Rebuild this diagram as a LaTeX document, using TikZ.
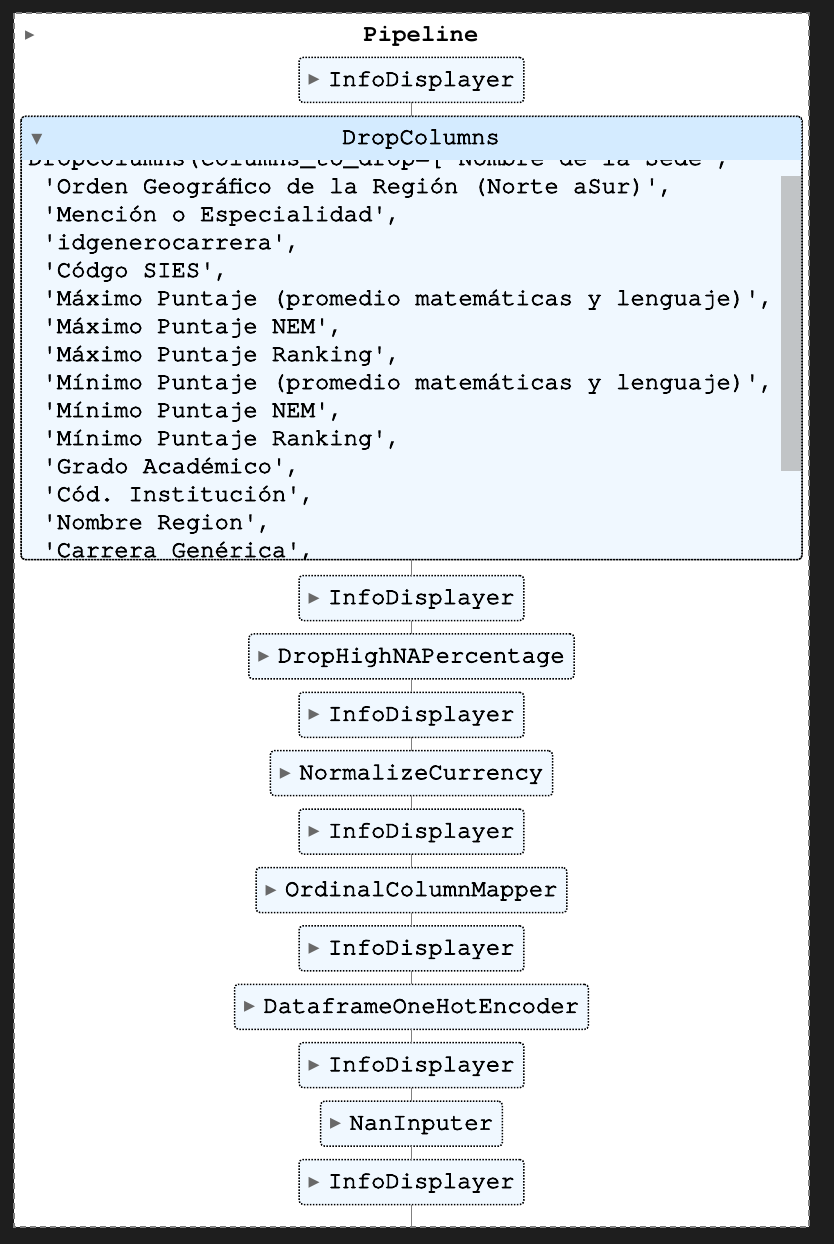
\documentclass[tikz,border=0pt]{standalone}
\usepackage{fontspec}
\setmonofont{texgyrecursor}[Extension=.otf,UprightFont=*-regular,BoldFont=*-bold,UprightFeatures={FakeBold=3}]
\newfontfamily\trifont{DejaVu Sans}
\usetikzlibrary{positioning}

\definecolor{skdark}{HTML}{1E1E1E}
\definecolor{skfill}{HTML}{F0F8FF}
\definecolor{skhead}{HTML}{D4EBFF}
\definecolor{skgray}{HTML}{696969}
\definecolor{sklink}{HTML}{808080}
\definecolor{skbar}{HTML}{C1C4C6}

\newcommand{\skfont}{\ttfamily\fontsize{23.9pt}{28pt}\selectfont}
\newcommand{\tri}{\makebox[19.5pt][l]{\trifont\fontsize{22pt}{22pt}\selectfont\color{skgray}▸}}
\newcommand{\trid}{{\trifont\fontsize{22pt}{22pt}\selectfont\color{skgray}▾}}

\begin{document}
\begin{tikzpicture}[x=1pt,y=-1pt,node distance=13.4pt,
  estbox/.style={draw,fill=skfill,rounded corners=4pt,line width=1.5pt,dash pattern=on 1.5pt off 1.5pt,
    minimum height=45pt,inner xsep=9.5pt,inner ysep=0pt,outer sep=0pt,text height=16pt,text depth=4pt,font=\skfont},
  codeline/.style={anchor=base west,inner sep=0pt,font=\skfont},
  link/.style={draw=sklink,line width=1.6pt}]
\useasboundingbox (0,0) rectangle (834,1244);
\fill[skdark] (0,0) rectangle (834,1244);
\draw[sklink,fill=white,line width=2pt,dash pattern=on 6pt off 4pt] (14,13) rectangle (809,1227);

\node[inner sep=0pt,font=\trifont\fontsize{19pt}{19pt}\selectfont,text=skgray] (ptri) at (30,36) {▸};
\node[font=\skfont\bfseries] (ptitle) at (421,36) {Pipeline};

\node[estbox] (i1) at (411.5,80) {\tri InfoDisplayer};
\node[estbox,minimum width=781pt,minimum height=443pt,below=14pt of i1] (dc) {};

% expanded estimator
\begin{scope}
\clip[rounded corners=4pt] (dc.north west) rectangle (dc.south east);
\node[codeline] (l0) at (28,165) {DropColumns(columns\_to\_drop=['Nombre de la Sede',};
\node[codeline] (l1) at (42.3,193) {'Orden Geográfico de la Región (Norte aSur)',};
\node[codeline] (l2) at (42.3,221) {'Mención o Especialidad',};
\node[codeline] (l3) at (42.3,249) {'idgenerocarrera',};
\node[codeline] (l4) at (42.3,277) {'Códgo SIES',};
\node[codeline] (l5) at (42.3,305) {'Máximo Puntaje (promedio matemáticas y lenguaje)',};
\node[codeline] (l6) at (42.3,333) {'Máximo Puntaje NEM',};
\node[codeline] (l7) at (42.3,361) {'Máximo Puntaje Ranking',};
\node[codeline] (l8) at (42.3,389) {'Mínimo Puntaje (promedio matemáticas y lenguaje)',};
\node[codeline] (l9) at (42.3,417) {'Mínimo Puntaje NEM',};
\node[codeline] (l10) at (42.3,445) {'Mínimo Puntaje Ranking',};
\node[codeline] (l11) at (42.3,473) {'Grado Académico',};
\node[codeline] (l12) at (42.3,501) {'Cód. Institución',};
\node[codeline] (l13) at (42.3,529) {'Nombre Region',};
\node[codeline] (l14) at (42.3,557) {'Carrera Genérica',};
\fill[skhead] (dc.north west) rectangle (802,160);
\fill[skbar] (781,176) rectangle (801,471);
\end{scope}
\draw[line width=1.5pt,dash pattern=on 1.5pt off 1.5pt,rounded corners=4pt] (dc.north west) rectangle (dc.south east);
\node[inner sep=0pt] (dtri) at (37,140) {\trid};
\node[font=\skfont] (dtitle) at (421,139) {DropColumns};

\node[estbox,below=16pt of dc] (i2) {\tri InfoDisplayer};
\node[estbox,below=of i2] (dh) {\tri DropHighNAPercentage};
\node[estbox,below=of dh] (i3) {\tri InfoDisplayer};
\node[estbox,below=of i3] (nc) {\tri NormalizeCurrency};
\node[estbox,below=of nc] (i4) {\tri InfoDisplayer};
\node[estbox,below=of i4] (oc) {\tri OrdinalColumnMapper};
\node[estbox,below=of oc] (i5) {\tri InfoDisplayer};
\node[estbox,below=of i5] (oh) {\tri DataframeOneHotEncoder};
\node[estbox,below=of oh] (i6) {\tri InfoDisplayer};
\node[estbox,below=of i6] (ni) {\tri NanInputer};
\node[estbox,below=of ni] (i7) {\tri InfoDisplayer};
\coordinate (bot) at (411.5,1226);

\path[link] (i1) -- (dc);
\path[link] (dc) -- (i2);
\path[link] (i2) -- (dh);
\path[link] (dh) -- (i3);
\path[link] (i3) -- (nc);
\path[link] (nc) -- (i4);
\path[link] (i4) -- (oc);
\path[link] (oc) -- (i5);
\path[link] (i5) -- (oh);
\path[link] (oh) -- (i6);
\path[link] (i6) -- (ni);
\path[link] (ni) -- (i7);
\path[link] (i7) -- (bot);
\end{tikzpicture}
\end{document}
